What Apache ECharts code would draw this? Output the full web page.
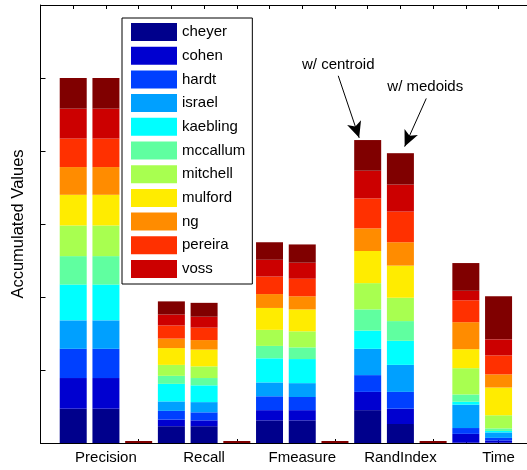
<!DOCTYPE html>
<html>
<head>
<meta charset="utf-8">
<script src="https://cdn.jsdelivr.net/npm/echarts@6.0.0/dist/echarts.min.js"></script>
<style>
html,body{margin:0;padding:0;background:#fff;}
#chart{width:527px;height:470px;}
</style>
</head>
<body>
<div id="chart"></div>
<script>
// groups of two bars: [w/ centroid, w/ medoids]
var groups = ['Precision', 'Recall', 'Fmeasure', 'RandIndex', 'Time'];

// per-bar values, order: P1,P2, R1,R2, F1,F2, RI1,RI2, T1,T2
var cheyer   = [0.47, 0.47, 0.23, 0.23, 0.31, 0.31, 0.45, 0.26, 0.005, 0.005];
var cohen    = [0.42, 0.42, 0.09, 0.08, 0.14, 0.14, 0.25, 0.21, 0.12, 0.03];
var hardt    = [0.40, 0.40, 0.12, 0.11, 0.19, 0.18, 0.23, 0.23, 0.08, 0.035];
var israel   = [0.39, 0.39, 0.13, 0.14, 0.19, 0.19, 0.36, 0.37, 0.32, 0.075];
var kaebling = [0.49, 0.49, 0.24, 0.23, 0.33, 0.33, 0.25, 0.33, 0.04, 0.02];
var mccallum = [0.39, 0.39, 0.11, 0.10, 0.17, 0.16, 0.29, 0.27, 0.10, 0.035];
var mitchell = [0.42, 0.42, 0.15, 0.16, 0.22, 0.22, 0.36, 0.32, 0.36, 0.18];
var mulford  = [0.42, 0.42, 0.23, 0.23, 0.30, 0.30, 0.44, 0.44, 0.26, 0.38];
var ng       = [0.38, 0.38, 0.13, 0.13, 0.19, 0.18, 0.31, 0.32, 0.37, 0.18];
var pereira  = [0.39, 0.39, 0.18, 0.17, 0.24, 0.24, 0.41, 0.42, 0.30, 0.26];
var voss     = [0.41, 0.41, 0.15, 0.15, 0.23, 0.22, 0.38, 0.37, 0.13, 0.22];
var last     = [0.42, 0.42, 0.18, 0.19, 0.24, 0.25, 0.42, 0.43, 0.38, 0.59];

var names  = ['cheyer','cohen','hardt','israel','kaebling','mccallum','mitchell','mulford','ng','pereira','voss',''];
var values = [cheyer, cohen, hardt, israel, kaebling, mccallum, mitchell, mulford, ng, pereira, voss, last];
var colors = ['#00008c','#0000d0','#0040ff','#00a0ff','#00ffff','#60ffa0','#a8ff50','#ffec00','#ff8c00','#ff3000','#cc0000','#800000'];

var yTicks = [0, 1, 2, 3, 4, 5, 6];

// annotation arrows, in data units (x = slot position)
var notes = [
    {text: 'w/ centroid', at: [9.10, 5.18], from: [9.10, 5.03], to: [9.74, 4.18]},
    {text: 'w/ medoids',  at: [11.76, 4.88], from: [11.79, 4.72], to: [11.13, 4.06]}
];

// slots 0..16: bars at 1,2 | 4,5 | 7,8 | 10,11 | 13,14, empty at 3,6,9,12
var nSlots = 17;
function xPos(i) { return Math.floor(i / 2) * 3 + (i % 2) + 1; }
var slots = [];
for (var k = 0; k < nSlots; k++) slots.push('');
groups.forEach(function (g, j) { slots[3 * j + 2] = g; });
var emptySlots = [3, 6, 9, 12];

var font = 'Liberation Sans, Arial, Helvetica, sans-serif';

var series = values.map(function (arr, s) {
    var d = slots.map(function () { return null; });
    arr.forEach(function (v, i) { d[xPos(i)] = v; });
    var item = {
        name: names[s],
        type: 'bar',
        stack: 'all',
        barWidth: 27,
        data: d,
        itemStyle: {color: colors[s]},
        emphasis: {disabled: true}
    };
    if (s === values.length - 1) {
        emptySlots.forEach(function (x) { d[x] = 0; });
        item.barMinHeight = 2;
    }
    return item;
});

series.push({
    type: 'line',
    xAxisIndex: 1,
    data: [],
    silent: true,
    markLine: {
        silent: true,
        animation: false,
        lineStyle: {color: '#000', width: 1, type: 'solid'},
        label: {show: false},
        data: notes.map(function (n) {
            return [
                {coord: n.from, symbol: 'none'},
                {coord: n.to, symbol: 'arrow', symbolSize: [11, 16]}
            ];
        })
    },
    markPoint: {
        silent: true,
        animation: false,
        symbol: 'circle',
        symbolSize: 0,
        label: {show: true, formatter: '{b}', color: '#000', fontSize: 15, fontFamily: font},
        data: notes.map(function (n) { return {name: n.text, coord: n.at}; })
    }
});

var chart = echarts.init(document.getElementById('chart'));
var option = {
    animation: false,
    backgroundColor: '#fff',
    grid: {left: 40.5, right: -37, top: 5, bottom: 27, containLabel: false, outerBoundsMode: 'none'},
    legend: {
        data: names.slice(0, 11),
        orient: 'vertical',
        left: 122,
        top: 18,
        padding: [5, 7, 6, 9],
        itemWidth: 46,
        itemHeight: 18,
        itemGap: 5.7,
        icon: 'rect',
        selectedMode: false,
        backgroundColor: '#fff',
        borderColor: '#000',
        borderWidth: 1,
        textStyle: {color: '#000', fontSize: 15, fontFamily: font}
    },
    xAxis: [
        {
            type: 'category',
            data: slots,
            boundaryGap: false,
            position: 'bottom',
            axisLine: {lineStyle: {color: '#000', width: 1}},
            axisTick: {inside: true, length: 4, interval: 0, lineStyle: {color: '#000'}},
            axisLabel: {interval: 0, margin: 7, color: '#000', fontSize: 15, fontFamily: font},
            splitLine: {show: false}
        },
        {
            type: 'value',
            min: 0,
            max: nSlots - 1,
            interval: 1,
            position: 'top',
            axisLine: {lineStyle: {color: '#000', width: 1}},
            axisTick: {inside: true, length: 4, lineStyle: {color: '#000'}},
            axisLabel: {show: false},
            splitLine: {show: false}
        }
    ],
    yAxis: {
        type: 'value',
        min: yTicks[0],
        max: yTicks[yTicks.length - 1],
        interval: 1,
        name: 'Accumulated Values',
        nameLocation: 'middle',
        nameGap: 14,
        nameTextStyle: {color: '#000', fontSize: 16.5, fontFamily: font},
        axisLine: {show: true, lineStyle: {color: '#000', width: 1}},
        axisTick: {show: true, inside: true, length: 5, lineStyle: {color: '#000'}},
        axisLabel: {show: false},
        splitLine: {show: false}
    },
    series: series
};
chart.setOption(option);
</script>
</body>
</html>
